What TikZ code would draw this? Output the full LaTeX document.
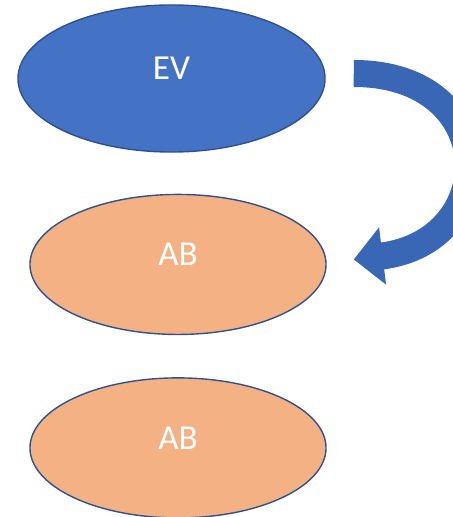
\documentclass[tikz,border=0pt]{standalone}
\usepackage{fontspec}
\setmainfont{Carlito}
\usepackage{tikz}
\usetikzlibrary {arrows.meta,
                 positioning,
                 shapes.geometric}
\definecolor{evblue}{HTML}{4472C4}
\definecolor{abpeach}{HTML}{F4B183}
\definecolor{rimblue}{HTML}{2F528F}
\definecolor{arrowblue}{HTML}{3A66B6}
\tikzset{
         blob/.style={ellipse, draw=rimblue, line width=0.035cm, inner sep=0pt,
                      text=white, text depth=0.5cm,
                      font=\fontsize{25}{30}\selectfont},
         evblob/.style={blob, fill=evblue, minimum width=7.675cm, minimum height=3.675cm},
         abblob/.style={blob, fill=abpeach, minimum width=7.4cm, minimum height=3.5cm},
         bigarrow/.style={-{Triangle[length=0.725cm, width=1.4cm]}, line width=0.675cm, arrowblue},
}

\begin{document}
\begin{tikzpicture}[x=0.025cm, y=-0.025cm]
    \useasboundingbox[fill=white] (0,0) rectangle (452,517);

    % Ellipsen
    \node[evblob] (ev) at (171.5,78.5) {EV};
    \node[abblob, below=1.025cm of ev, xshift=0.1625cm] (ab1) {AB};
    \node[abblob, below=1.05cm of ab1] (ab2) {AB};

    % Pfeil
    \coordinate (tail) at ([xshift=0.7cm, yshift=0.125cm]ev.east);
    \coordinate (tip) at ([xshift=0.675cm, yshift=0.125cm]ab1.east);
    \draw[bigarrow] (tail) .. controls +(3.7cm,0) and +(3.7cm,0.45cm) .. (tip);

\end{tikzpicture}
\end{document}
